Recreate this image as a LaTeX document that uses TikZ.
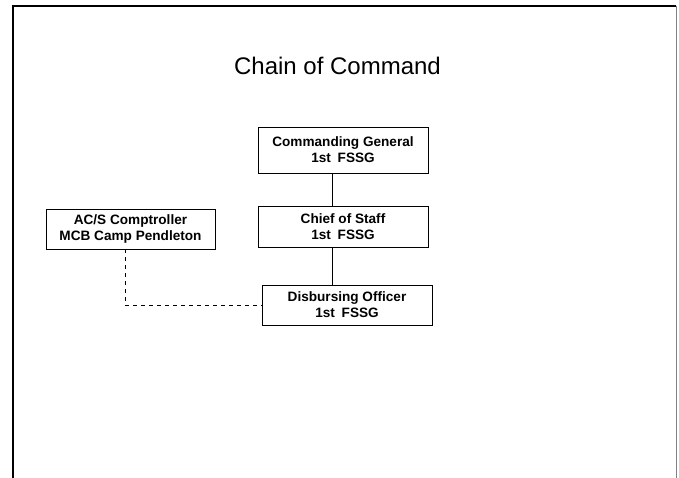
\documentclass[tikz,border=0pt]{standalone}
\usepackage{fontspec}
\setmainfont{Liberation Sans}

\begin{document}
\begin{tikzpicture}[x=1pt,y=-1pt,
  unit/.style={draw,line width=0.9pt,inner sep=0pt,align=center,
    minimum width=170pt,font=\fontsize{13.6}{16}\selectfont\bfseries},
  staff/.style={draw,line width=1pt,dash pattern=on 4pt off 4pt}]
  \useasboundingbox (0,0) rectangle (679,478);
  \draw[line width=1.6pt] (13,478) -- (13,6) -- (676,6);
  \draw[line width=0.7pt,gray] (676,6) -- (676,478);
  \node[anchor=base,font=\fontsize{24}{27}\selectfont] (title) at (337.5,75) {Chain of Command};
  \node[unit,minimum height=46pt] (cg) at (343,150) {Commanding General\\1st\enspace FSSG};
  \node[unit,minimum height=41pt] (cos) at (343,226.5) {Chief of Staff\\1st\enspace FSSG};
  \node[unit,minimum height=40pt] (do) at (347,305) {Disbursing Officer\\1st\enspace FSSG};
  \node[unit,minimum height=40pt,minimum width=169pt] (acs) at (130.5,229) {AC/S Comptroller\\MCB Camp Pendleton};
  \draw[line width=0.9pt] (cg.south -| 332,0) -- (cos.north -| 332,0);
  \draw[line width=0.9pt] (cos.south -| 332,0) -- (do.north -| 332,0);
  \draw[staff] (acs.south -| 125,0) |- (do.west);
\end{tikzpicture}
\end{document}
